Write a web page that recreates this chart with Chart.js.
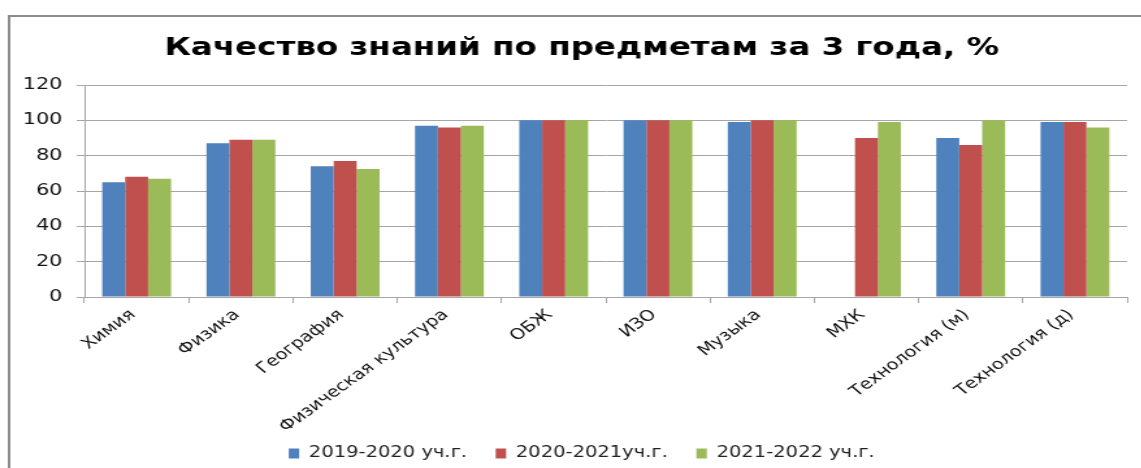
<!DOCTYPE html>
<html>
<head>
<meta charset="utf-8">
<script src="https://cdn.jsdelivr.net/npm/chart.js@4"></script>
<style>
body { margin: 0; background: #fff; overflow: hidden; }
/* картинка-образец растянута по горизонтали, повторяем это */
#wrap { width: 878px; height: 468px; transform: scaleX(1.3); transform-origin: 0 0; }
</style>
</head>
<body>
<div id="wrap"><canvas id="QualityChart"></canvas></div>
<script>
const subjects = ['Химия', 'Физика', 'География', 'Физическая культура', 'ОБЖ', 'ИЗО', 'Музыка', 'МХК', 'Технология (м)', 'Технология (д)'];
const year2019 = [65, 87, 74, 97, 100, 100, 99, null, 90, 99];
const year2020 = [68, 89, 77, 96, 100, 100, 100, 90, 86, 99];
const year2021 = [67, 89, 72.5, 97, 100, 100, 100, 99, 100, 96];
const yTicks = [0, 20, 40, 60, 80, 100, 120];

const font = 'DejaVu Sans';
const gridColor = '#a6a6a6';

// рамка вокруг диаграммы, как в Excel
const frame = {
    id: 'frame',
    beforeDraw(chart) {
        const ctx = chart.ctx;
        ctx.save();
        ctx.fillStyle = '#fff';
        ctx.fillRect(0, 0, chart.width, chart.height);
        ctx.strokeStyle = '#8c8c8c';
        ctx.lineWidth = 2;
        ctx.strokeRect(7, 16, chart.width + 20, chart.height + 20);
        ctx.restore();
    }
};

// заголовок и легенда в образце чуть правее центра,
// подписи оси X заходят ниже своей области
const shiftBoxes = {
    id: 'shiftBoxes',
    afterLayout(chart) {
        chart.legend.left += 10;
        chart.legend.right += 10;
        chart.legend.top += 3;
        chart.legend.bottom += 3;
        chart.titleBlock.left += 10;
        chart.titleBlock.right += 10;
        chart.scales.x.bottom = chart.height;
    }
};

const data = {
    labels: subjects,
    datasets: [{
        label: '2019-2020 уч.г.',
        data: year2019,
        backgroundColor: '#4F81BD'
    }, {
        label: '2020-2021уч.г.',
        data: year2020,
        backgroundColor: '#C0504D'
    }, {
        label: '2021-2022 уч.г.',
        data: year2021,
        backgroundColor: '#9BBB59'
    }]
};

const config = {
    type: 'bar',
    data: data,
    plugins: [frame, shiftBoxes],
    options: {
        responsive: false,
        animation: false,
        layout: {
            padding: { left: 8, right: 11, top: 33, bottom: 0 }
        },
        datasets: {
            bar: { categoryPercentage: 0.66, barPercentage: 1 }
        },
        plugins: {
            title: {
                display: true,
                text: 'Качество знаний по предметам за 3 года, %',
                color: '#000',
                font: { family: font, size: 25, weight: 'bold' },
                padding: { top: 0, bottom: 22 }
            },
            legend: {
                position: 'bottom',
                labels: {
                    color: '#222',
                    font: { family: font, size: 15 },
                    boxWidth: 8,
                    boxHeight: 10,
                    padding: 22
                }
            },
            tooltip: { enabled: false }
        },
        scales: {
            x: {
                grid: {
                    drawOnChartArea: false,
                    color: gridColor,
                    tickLength: 6
                },
                border: { color: gridColor, width: 1 },
                ticks: {
                    color: '#111',
                    font: { family: font, size: 15 },
                    minRotation: 43,
                    maxRotation: 43,
                    autoSkip: false,
                    labelOffset: -3,
                    padding: 3
                },
                afterFit(scale) { scale.height = 124; }
            },
            y: {
                min: 0,
                max: 120,
                afterBuildTicks(scale) { scale.ticks = yTicks.map(v => ({ value: v })); },
                grid: {
                    color: gridColor,
                    tickLength: 6
                },
                border: { color: gridColor, width: 1 },
                ticks: {
                    color: '#111',
                    font: { family: font, size: 16 },
                    padding: 11
                },
                afterFit(scale) { scale.width = 57; }
            }
        }
    }
};

const canvas = document.getElementById('QualityChart');
canvas.width = 878;
canvas.height = 468;
const chart = new Chart(canvas, config);
</script>
</body>
</html>
